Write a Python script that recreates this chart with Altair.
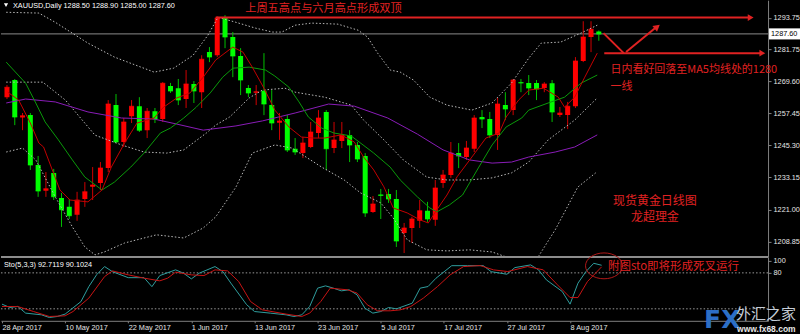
import altair as alt
import pandas as pd

# ---------------- data ----------------
# bar index 0 = 28 Apr 2017 ... 76 = 14 Aug 2017 (daily bars)
date_labels = ["28 Apr 2017", "10 May 2017", "22 May 2017", "1 Jun 2017", "13 Jun 2017",
               "23 Jun 2017", "5 Jul 2017", "17 Jul 2017", "27 Jul 2017", "8 Aug 2017"]
date_label_bars = [0, 8, 16, 24, 32, 40, 48, 56, 64, 72]
price_ticks = [1293.75, 1281.75, 1269.60, 1257.45, 1245.30, 1233.15, 1221.00, 1208.85]
sto_ticks = [100, 80]
sto_levels = [80, 20]
last_price = 1287.60

opens = [1263.6, 1270.1, 1255.9, 1256.8, 1237.9, 1228.1, 1234.8, 1225.4, 1222.0, 1219.0,
         1225.0, 1229.6, 1231.1, 1236.7, 1260.6, 1246.6, 1256.4, 1260.2, 1251.1, 1258.3,
         1255.3, 1267.8, 1267.0, 1262.9, 1268.6, 1265.5, 1280.7, 1279.5, 1293.9, 1286.4,
         1279.2, 1267.1, 1265.3, 1266.0, 1260.6, 1253.9, 1255.3, 1244.0, 1242.4, 1244.7,
         1250.0, 1258.0, 1244.3, 1247.0, 1249.3, 1245.5, 1241.3, 1220.1, 1226.7, 1226.9,
         1225.0, 1212.1, 1214.0, 1216.7, 1220.5, 1217.1, 1231.1, 1234.1, 1242.4, 1240.9,
         1244.0, 1256.1, 1255.3, 1249.3, 1260.6, 1258.7, 1269.3, 1269.0, 1269.0, 1267.1,
         1268.9, 1256.8, 1256.8, 1260.2, 1277.3, 1286.4, 1288.5]
highs = [1268.2, 1270.5, 1257.6, 1257.6, 1241.3, 1235.2, 1236.4, 1227.3, 1225.0, 1227.7,
         1231.4, 1237.1, 1239.0, 1262.5, 1264.8, 1255.7, 1262.5, 1263.6, 1259.5, 1259.5,
         1269.3, 1269.0, 1270.5, 1273.9, 1269.7, 1279.5, 1282.6, 1294.3, 1294.7, 1288.3,
         1282.2, 1268.2, 1268.2, 1280.3, 1266.3, 1257.6, 1256.8, 1248.1, 1248.5, 1254.2,
         1258.7, 1258.7, 1254.2, 1254.2, 1251.1, 1246.6, 1242.4, 1226.1, 1228.8, 1228.8,
         1228.4, 1215.9, 1218.2, 1224.6, 1223.9, 1232.2, 1236.0, 1246.6, 1246.2, 1247.0,
         1256.8, 1258.7, 1258.0, 1263.3, 1265.5, 1270.5, 1270.5, 1272.0, 1270.1, 1269.3,
         1270.1, 1259.9, 1261.8, 1278.8, 1292.4, 1292.4, 1288.9]
lows = [1262.9, 1253.0, 1251.1, 1236.0, 1225.8, 1225.8, 1224.6, 1214.4, 1217.4, 1216.7,
        1222.0, 1224.6, 1228.4, 1235.2, 1246.2, 1244.7, 1253.8, 1250.4, 1248.1, 1253.8,
        1254.2, 1265.2, 1260.6, 1259.5, 1261.4, 1259.5, 1276.9, 1278.8, 1282.2, 1271.2,
        1264.4, 1263.6, 1260.6, 1256.8, 1251.1, 1247.4, 1242.8, 1241.7, 1240.5, 1244.3,
        1248.1, 1236.0, 1242.4, 1244.3, 1239.0, 1239.0, 1218.2, 1219.7, 1217.4, 1223.5,
        1206.8, 1204.5, 1208.3, 1214.0, 1216.3, 1214.8, 1229.2, 1233.0, 1236.7, 1239.8,
        1242.8, 1251.9, 1248.1, 1243.6, 1254.9, 1256.8, 1265.5, 1264.4, 1262.5, 1265.5,
        1254.2, 1256.1, 1251.5, 1259.5, 1276.9, 1280.7, 1285.0]
closes = [1267.4, 1256.1, 1256.6, 1237.9, 1228.0, 1228.9, 1225.8, 1220.9, 1218.6, 1224.6,
          1227.7, 1230.3, 1236.7, 1261.0, 1246.6, 1254.2, 1260.2, 1251.1, 1258.3, 1255.3,
          1268.9, 1265.9, 1262.5, 1268.6, 1265.9, 1278.0, 1278.8, 1293.6, 1286.4, 1279.2,
          1270.1, 1265.2, 1265.7, 1261.0, 1253.8, 1254.6, 1243.6, 1242.8, 1246.2, 1250.4,
          1255.7, 1244.0, 1247.4, 1249.3, 1245.5, 1240.2, 1219.7, 1223.1, 1226.3, 1225.0,
          1209.1, 1214.0, 1217.4, 1220.5, 1217.4, 1229.2, 1234.1, 1242.4, 1241.3, 1244.3,
          1255.7, 1255.3, 1249.3, 1261.0, 1259.1, 1270.1, 1269.0, 1267.1, 1266.7, 1268.6,
          1258.0, 1257.6, 1260.2, 1277.3, 1286.4, 1289.4, 1287.6]

# MA5 (red)
ma5_i = [0.1, 1.5, 3.0, 4.1, 4.7, 6.8, 8.1, 10.4, 12.2, 13.4, 15.1, 16.7, 18.9, 20.1, 21.8,
         23.5, 25.2, 26.8, 29.0, 30.3, 31.5, 33.0, 34.4, 36.2, 37.8, 39.4, 40.8, 42.9, 44.6,
         45.8, 47.1, 48.4, 49.6, 51.4, 53.0, 54.1, 55.2, 56.5, 57.8, 59.7, 61.5, 63.2, 64.1,
         65.7, 67.0, 68.9, 70.8, 71.6, 72.9, 74.2, 75.8]
ma5_v = [1265.5, 1262.5, 1253.8, 1246.2, 1244.7, 1228.4, 1224.6, 1223.9, 1228.4, 1237.1,
         1246.2, 1253.8, 1255.7, 1259.8, 1263.3, 1265.2, 1271.2, 1277.7, 1282.6, 1280.7,
         1275.0, 1267.0, 1258.7, 1252.3, 1248.5, 1248.1, 1248.1, 1249.3, 1246.6, 1240.9,
         1236.0, 1229.6, 1221.6, 1219.7, 1217.1, 1215.9, 1220.9, 1226.5, 1233.4, 1240.9,
         1248.1, 1250.0, 1256.1, 1262.5, 1266.3, 1267.0, 1263.6, 1259.8, 1263.6, 1271.2,
         1280.3]
# MA10 (green)
ma10_i = [-0.1, 2.4, 3.7, 4.9, 6.6, 8.4, 10.0, 12.2, 13.8, 15.9, 17.6, 19.7, 21.0, 22.7,
          24.3, 26.1, 27.7, 29.0, 31.1, 33.2, 34.4, 36.2, 37.5, 38.7, 40.4, 42.0, 44.2, 47.1,
          49.2, 50.5, 52.7, 54.3, 55.2, 56.8, 58.5, 60.6, 62.3, 64.1, 66.1, 67.0, 69.5, 71.6,
          73.7, 75.8]
ma10_v = [1276.9, 1268.9, 1261.4, 1254.2, 1247.4, 1239.8, 1233.3, 1228.4, 1231.4, 1237.1,
          1242.4, 1250.0, 1251.9, 1255.7, 1259.8, 1265.2, 1271.2, 1274.6, 1275.0, 1273.9,
          1271.6, 1267.4, 1261.8, 1256.1, 1251.9, 1250.0, 1248.9, 1242.4, 1237.1, 1232.2,
          1225.8, 1221.6, 1220.1, 1222.7, 1226.5, 1237.1, 1245.5, 1252.3, 1255.7, 1258.7,
          1261.4, 1263.6, 1268.9, 1272.0]
# long MA (purple)
mal_i = [-0.1, 2.4, 6.2, 10.4, 14.7, 18.9, 21.8, 25.2, 29.4, 32.8, 37.0, 41.3, 44.6, 48.9,
         52.7, 56.0, 59.4, 62.3, 64.8, 67.0, 70.4, 72.9, 75.8]
mal_v = [1261.4, 1262.9, 1261.8, 1258.0, 1255.7, 1255.3, 1253.4, 1251.1, 1252.7, 1254.6,
         1257.6, 1261.0, 1260.2, 1255.7, 1249.6, 1243.6, 1239.8, 1238.6, 1239.0, 1240.9,
         1242.8, 1244.7, 1249.3]
# Bollinger bands (grey dotted)
bbu_i = [-0.1, 4.1, 6.2, 10.4, 13.8, 18.9, 21.4, 23.9, 25.8, 27.1, 29.4, 31.9, 34.1, 35.3,
         37.0, 39.1, 42.5, 45.1, 46.3, 47.6, 49.2, 50.5, 52.2, 54.3, 56.5, 59.7, 62.3, 64.8,
         67.0, 68.6, 71.1, 73.7, 75.8]
bbu_v = [1295.8, 1295.5, 1292.0, 1284.1, 1278.8, 1273.1, 1274.6, 1279.5, 1287.1, 1293.9,
         1292.0, 1289.8, 1288.3, 1288.3, 1290.9, 1291.7, 1291.3, 1289.0, 1286.4, 1280.3,
         1273.9, 1273.1, 1270.1, 1263.6, 1260.6, 1258.7, 1261.4, 1269.0, 1278.4, 1284.1,
         1284.5, 1287.9, 1290.9]
bbm_i = [-0.1, 4.6, 7.5, 11.3, 14.7, 17.6, 20.5, 22.7, 25.6, 26.8, 28.6, 31.1, 32.8, 35.7,
         37.0, 40.8, 44.2, 45.8, 48.4, 50.9, 53.9, 56.5, 59.4, 62.3, 64.8, 67.0, 69.5, 72.9,
         75.8]
bbm_v = [1269.3, 1269.3, 1262.5, 1249.2, 1245.5, 1242.8, 1242.4, 1243.6, 1250.0, 1253.0,
         1256.1, 1263.3, 1266.3, 1267.0, 1265.5, 1263.6, 1260.6, 1254.9, 1247.4, 1239.8,
         1233.3, 1232.2, 1232.2, 1233.0, 1234.9, 1239.0, 1247.4, 1254.9, 1263.3]
bbl_i = [-0.1, 2.0, 3.7, 6.2, 8.4, 10.0, 11.3, 12.5, 15.1, 19.2, 22.7, 25.2, 26.8, 29.4,
         31.5, 34.4, 36.6, 40.4, 43.3, 45.4, 48.0, 49.6, 51.4, 53.9, 56.5, 59.4, 62.3, 64.4,
         67.8, 70.4, 73.3, 75.6]
bbl_v = [1242.8, 1244.3, 1239.8, 1225.8, 1214.4, 1206.8, 1203.8, 1204.9, 1208.3, 1211.4,
         1210.2, 1214.0, 1218.2, 1229.5, 1242.4, 1245.5, 1244.3, 1237.1, 1232.2, 1227.3,
         1223.5, 1217.8, 1209.5, 1205.7, 1205.3, 1205.7, 1204.9, 1202.7, 1201.1, 1213.3,
         1229.5, 1234.9]
# Stochastic (5,3,3)
k_i = [0, 1, 2, 3, 5, 6, 7, 8, 10, 11, 12, 13, 14, 16, 18, 19, 20, 22, 23, 24, 25, 27, 28,
       29, 31, 32, 34, 36, 37, 38, 39, 40, 41, 42, 43, 44, 45, 46, 47, 48, 49, 50, 52, 53,
       54, 55, 57, 59, 61, 62, 64, 65, 67, 68, 69, 71, 72, 73, 74, 75, 76]
k_v = [27.8, 22.2, 24, 12.8, 10, 5.5, 7.2, 11.2, 32, 57, 77, 90.5, 82, 72, 72, 57, 75.5, 85,
       79.5, 70, 79.5, 90.5, 82, 63, 27, 15.5, 12.8, 10, 7.2, 10, 24, 54.5, 58.3, 54.5, 50,
       51.7, 43.3, 21, 12.8, 15.5, 22.2, 20, 29.5, 54.5, 57.2, 71, 92, 92, 92, 82, 77.7,
       88.8, 93.3, 85, 68.3, 49, 27.8, 62.8, 82, 96, 92.7]
d_i = [0, 2, 4, 6, 8, 9, 11, 13, 14, 16, 18, 20, 21, 22, 24, 25.6, 27, 28.6, 30, 31.5, 33,
       36, 38, 39, 40.4, 41.6, 43.8, 45, 46.3, 47.6, 49.2, 50.5, 51.8, 53.4, 55.2, 56.8,
       58.5, 60.6, 62.3, 64.1, 66.6, 68.6, 70.4, 72, 73, 74.2, 76]
d_v = [23.8, 23.8, 15.5, 7.2, 8.3, 15.5, 37.8, 73.8, 83.3, 76.7, 71.2, 66.7, 71.2, 81.2,
       76.7, 75.5, 85, 83.3, 65.5, 32.2, 18.3, 11.2, 7.2, 12.8, 32.2, 54.5, 51.7, 46.2,
       26.7, 16.7, 16.7, 18.3, 23.8, 37.8, 57.2, 76.7, 90.5, 92.2, 85, 82.2, 90.5, 85, 60,
       38.8, 38.8, 65.5, 90.1]

# ---------------- styling ----------------
W, H1, H2 = 768, 257, 64
GRAY = "#808080"
TXT = "#e6e6e6"
RED = "#e02222"
NUM = "Liberation Sans"
CJK = "Noto Sans CJK SC"

xs = alt.Scale(domain=[-0.127, 97.09], nice=False, zero=False)
ps = alt.Scale(domain=[1203.03, 1300.38], nice=False, zero=False)
ss = alt.Scale(domain=[0, 106.67], nice=False, zero=False)

price_axis = alt.Axis(orient="right", values=price_ticks, format=".2f", labelColor=TXT,
                      labelFont=NUM, labelFontSize=7.3, labelPadding=2, tickColor=GRAY,
                      tickSize=3, domainColor=GRAY, grid=False, labelOverlap=False, title=None)
label_expr = "[" + ",".join("'" + s + "'" for s in date_labels) + "][round(datum.value/8)]"
date_axis = alt.Axis(values=date_label_bars, labelExpr=label_expr, labelAlign="left",
                     labelColor=TXT, labelFont=NUM, labelFontSize=7.3, labelPadding=1,
                     tickColor=GRAY, tickSize=2, domainColor=GRAY, grid=False, title=None,
                     labelOverlap=False, labelFlush=False)
sto_axis = alt.Axis(orient="right", values=sto_ticks, labelColor=TXT, labelFont=NUM,
                    labelFontSize=7.3, labelPadding=2, tickColor=GRAY, tickSize=3,
                    domainColor=GRAY, grid=False, title=None, labelOverlap=False)


def X(f="i"):
    return alt.X(f"{f}:Q", scale=xs, axis=None, title=None)


def P(f="p"):
    return alt.Y(f"{f}:Q", scale=ps, axis=price_axis, title=None)


def XS(f="i"):
    return alt.X(f"{f}:Q", scale=xs, axis=date_axis, title=None)


def S(f="v"):
    return alt.Y(f"{f}:Q", scale=ss, axis=sto_axis, title=None)


# ---------------- main panel ----------------
cdf = pd.DataFrame({"i": list(range(len(opens))), "o": opens, "h": highs, "l": lows, "c": closes})
cdf["up"] = cdf["c"] >= cdf["o"]
up = cdf[cdf["up"]]
dn = cdf[~cdf["up"]]

layers = []


def line_layer(idx, vals, color, dash=None, width=1):
    df = pd.DataFrame({"i": idx, "p": vals})
    kw = dict(color=color, strokeWidth=width, clip=True)
    if dash is not None:
        kw["strokeDash"] = dash
    return alt.Chart(df).mark_line(**kw).encode(x=X(), y=P())


# current price line
layers.append(alt.Chart(pd.DataFrame({"p": [last_price]})).mark_rule(color="#8c8c8c", strokeWidth=1)
              .encode(y=P()))

# candles
for df, body_c, wick_c in [(up, "#ff0000", "#d00000"), (dn, "#00ff00", "#00c000")]:
    layers.append(alt.Chart(df).mark_rule(color=wick_c, strokeWidth=1, clip=True)
                  .encode(x=X(), y=P("l"), y2="h:Q"))
    layers.append(alt.Chart(df).mark_bar(color=body_c, size=5, clip=True)
                  .encode(x=X(), y=P("o"), y2="c:Q"))
    layers.append(alt.Chart(df).mark_tick(color=body_c, orient="horizontal", size=5,
                                          thickness=1, clip=True)
                  .encode(x=X(), y=P("c")))

# indicators
for idx, vals in [(bbu_i, bbu_v), (bbm_i, bbm_v), (bbl_i, bbl_v)]:
    layers.append(line_layer(idx, vals, "#b8b8b8", dash=[1.5, 2]))
layers.append(line_layer(mal_i, mal_v, "#8a1cb8"))
layers.append(line_layer(ma10_i, ma10_v, "#0a9a0a"))
layers.append(line_layer(ma5_i, ma5_v, "#c40000"))

# annotation lines (red)
hl = pd.DataFrame({"i": [26.8, 76.7], "i2": [95.3, 96.8], "p": [1293.8, 1280.3]})
layers.append(alt.Chart(hl).mark_rule(color=RED, strokeWidth=2)
              .encode(x=X(), x2="i2:Q", y=P()))
zz = pd.DataFrame({"i": [76.6, 79.5], "i2": [79.2, 83.4], "p": [1287.9, 1280.7], "p2": [1280.3, 1290.2]})
layers.append(alt.Chart(zz).mark_rule(color=RED, strokeWidth=2)
              .encode(x=X(), x2="i2:Q", y=P(), y2="p2:Q"))
heads = pd.DataFrame({"i": [95.5, 97.0], "p": [1293.8, 1280.3]})
layers.append(alt.Chart(heads).mark_point(shape="triangle-right", filled=True, color=RED,
                                          size=45, opacity=1).encode(x=X(), y=P()))
head2 = pd.DataFrame({"i": [83.5], "p": [1290.3]})
layers.append(alt.Chart(head2).mark_point(shape="triangle-up", filled=True, color=RED,
                                          size=55, angle=51, opacity=1).encode(x=X(), y=P()))

# annotation texts
t1 = pd.DataFrame({"i": [30.6], "p": [1296.9], "t": ["上周五高点与六月高点形成双顶"]})
layers.append(alt.Chart(t1).mark_text(color=RED, font=CJK, fontSize=11.2, align="left",
                                      baseline="middle").encode(x=X(), y=P(), text="t:N"))
t2 = pd.DataFrame({"i": [77.5, 77.5], "p": [1273.9, 1267.6],
                   "t": ["日内看好回落至MA5均线处的1280", "一线"]})
layers.append(alt.Chart(t2).mark_text(color=RED, font=CJK, fontSize=11, align="left",
                                      baseline="middle").encode(x=X(), y=P(), text="t:N"))
t3 = pd.DataFrame({"i": [83.2, 83.2], "p": [1224.2, 1218.0], "t": ["现货黄金日线图", "龙超理金"]})
layers.append(alt.Chart(t3).mark_text(color=RED, font=CJK, fontSize=12, align="center",
                                      baseline="middle").encode(x=X(), y=P(), text="t:N"))

# header + current price box
layers.append(alt.Chart(pd.DataFrame({"t": ["XAUUSD,Daily  1288.50 1288.90 1285.00 1287.60"]}))
              .mark_text(color="#ffffff", font=NUM, fontSize=7.3, align="left", baseline="middle")
              .encode(x=alt.value(12), y=alt.value(6), text="t:N"))
layers.append(alt.Chart(pd.DataFrame({"a": [1]})).mark_point(shape="triangle-down", filled=True,
                                                            color="#ffffff", size=18, opacity=1)
              .encode(x=alt.value(5), y=alt.value(5)))
box = pd.DataFrame({"p": [last_price + 2.1], "p2": [last_price - 2.1]})
layers.append(alt.Chart(box).mark_rect(color="#ffffff")
              .encode(x=alt.value(769), x2=alt.value(800), y=P(), y2="p2:Q"))
layers.append(alt.Chart(pd.DataFrame({"p": [last_price], "t": [f"{last_price:.2f}"]}))
              .mark_text(color="#000000", font=NUM, fontSize=7.3, align="left", baseline="middle")
              .encode(x=alt.value(771), y=P(), text="t:N"))

main = alt.layer(*layers).properties(width=W, height=H1)

# ---------------- stochastic panel ----------------
sl = []
sl.append(alt.Chart(pd.DataFrame({"v": sto_levels})).mark_rule(color="#9a9a9a", strokeWidth=1,
                                                               strokeDash=[1.5, 2])
          .encode(y=S()))
sl.append(alt.Chart(pd.DataFrame({"v": [106.67]})).mark_rule(color="#8c8c8c", strokeWidth=2)
          .encode(y=S()))
sl.append(alt.Chart(pd.DataFrame({"i": k_i, "v": k_v})).mark_line(color="#2f9f9f", strokeWidth=1, clip=True)
          .encode(x=XS(), y=S()))
sl.append(alt.Chart(pd.DataFrame({"i": d_i, "v": d_v})).mark_line(color="#c81414", strokeWidth=1, clip=True)
          .encode(x=XS(), y=S()))
sl.append(alt.Chart(pd.DataFrame({"t": ["Sto(5,3,3) 92.7119 90.1024"]}))
          .mark_text(color="#ffffff", font=NUM, fontSize=7.3, align="left", baseline="middle")
          .encode(x=alt.value(3), y=alt.value(8), text="t:N"))
ellipse = "M -1 0 A 1 0.7 0 1 1 1 0 A 1 0.7 0 1 1 -1 0 Z"
sl.append(alt.Chart(pd.DataFrame({"i": [76.3], "v": [91.7]}))
          .mark_point(shape=ellipse, size=1369, filled=False, stroke="#b01818", strokeWidth=1,
                      opacity=1)
          .encode(x=XS(), y=S()))
sl.append(alt.Chart(pd.DataFrame({"i": [76.8], "v": [90.0], "t": ["附图sto即将形成死叉运行"]}))
          .mark_text(color=RED, font=CJK, fontSize=11.5, align="left", baseline="middle")
          .encode(x=XS(), y=S(), text="t:N"))
# watermark
sl.append(alt.Chart(pd.DataFrame({"t": ["FX"]}))
          .mark_text(color="#2c6fc6", font="DejaVu Sans", fontWeight="bold", fontSize=25,
                     align="left", baseline="middle")
          .encode(x=alt.value(704), y=alt.value(63), text="t:N"))
sl.append(alt.Chart(pd.DataFrame({"t": ["外汇之家"]}))
          .mark_text(color="#c4ccd6", font=CJK, fontSize=15, align="left", baseline="middle")
          .encode(x=alt.value(736), y=alt.value(57), text="t:N"))
sl.append(alt.Chart(pd.DataFrame({"t": ["www.fx68.com"]}))
          .mark_text(color="#e8e8e8", font=NUM, fontWeight="bold", fontSize=8.5,
                     align="left", baseline="middle")
          .encode(x=alt.value(737), y=alt.value(72.5), text="t:N"))

stoch = alt.layer(*sl).properties(width=W, height=H2)

chart = alt.vconcat(main, stoch, spacing=0, bounds="flush", padding=0,
                    background="#000000").configure_view(stroke=None)
chart.save("out.html", embed_options={"renderer": "svg", "actions": False})
